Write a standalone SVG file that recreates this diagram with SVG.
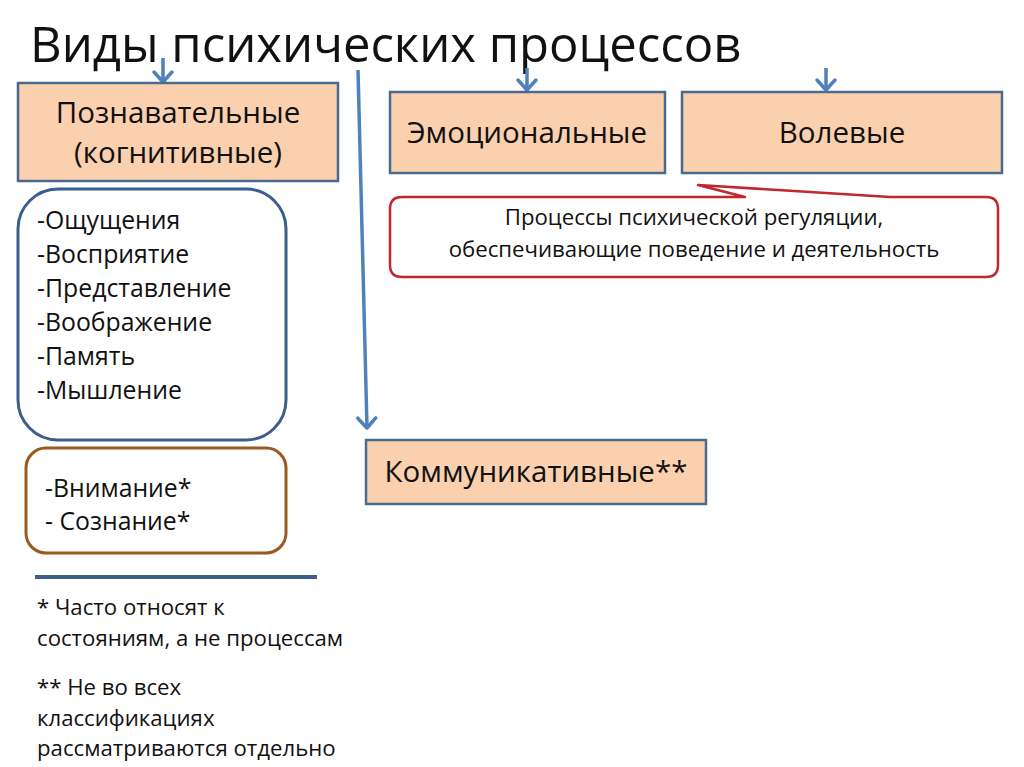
<svg xmlns="http://www.w3.org/2000/svg" width="1024" height="767" viewBox="0 0 1024 767">
<style>
text{font-family:"Open Sans","Noto Sans",sans-serif;fill:#111}
.box{fill:#FAD0AE;stroke:#4A6A90;stroke-width:2.5}
.t24{font-size:29.5px}
.t22{font-size:24.8px}
.t19{font-size:22.2px}
.arr{stroke:#4F81BD;stroke-width:3.5;fill:none;marker-end:url(#ah)}
</style>
<defs>
<marker id="ah" markerUnits="userSpaceOnUse" markerWidth="24" markerHeight="24" refX="12" refY="12" orient="auto" overflow="visible">
<path d="M2,3 L12,12 L2,21" fill="none" stroke="#4F81BD" stroke-width="3.5" stroke-linecap="round" stroke-linejoin="round"/>
</marker>
</defs>
<rect width="1024" height="767" fill="#fff"/>
<text x="30" y="62" font-size="49" id="title">Виды психических процессов</text>
<g id="connectors">
<line class="arr" x1="163" y1="58" x2="163" y2="82"/>
<line class="arr" x1="527" y1="68" x2="527" y2="90"/>
<line class="arr" x1="826" y1="68" x2="826" y2="90"/>
<line class="arr" x1="358" y1="70" x2="367" y2="428"/>
</g>
<g id="cognitive">
<rect class="box" x="18" y="83" width="320" height="98"/>
<text class="t24" x="178" y="123" text-anchor="middle">Познавательные</text>
<text class="t24" x="178" y="163" text-anchor="middle">(когнитивные)</text>
</g>
<g id="emotional">
<rect class="box" x="390" y="92" width="275" height="81"/>
<text class="t24" x="527" y="143" text-anchor="middle">Эмоциональные</text>
</g>
<g id="volitional">
<rect class="box" x="682" y="92" width="320" height="81"/>
<text class="t24" x="842" y="143" text-anchor="middle">Волевые</text>
</g>
<g id="regulation">
<path d="M402,197 L745,197 L698,185 L890,197 L986,197 Q998,197 998,209 L998,265 Q998,277 986,277 L402,277 Q390,277 390,265 L390,209 Q390,197 402,197 Z" fill="#fff" stroke="#C0282D" stroke-width="2.5" stroke-linejoin="round"/>
<text class="t19" x="694" y="225" text-anchor="middle">Процессы психической регуляции,</text>
<text class="t19" x="694" y="257" text-anchor="middle">обеспечивающие поведение и деятельность</text>
</g>
<g id="list">
<rect x="18" y="189" width="268" height="251" rx="40" fill="#fff" stroke="#3B5E8A" stroke-width="3"/>
<text class="t22" x="37" y="229">-Ощущения</text>
<text class="t22" x="37" y="263">-Восприятие</text>
<text class="t22" x="37" y="297">-Представление</text>
<text class="t22" x="37" y="331">-Воображение</text>
<text class="t22" x="37" y="365">-Память</text>
<text class="t22" x="37" y="399">-Мышление</text>
</g>
<g id="attention">
<rect x="26" y="448" width="260" height="105" rx="20" fill="#fff" stroke="#9A5B1F" stroke-width="3"/>
<text class="t22" x="45" y="497">-Внимание*</text>
<text class="t22" x="45" y="530">- Сознание*</text>
</g>
<g id="communicative">
<rect class="box" x="366" y="440" width="340" height="64"/>
<text class="t24" x="536" y="482" text-anchor="middle">Коммуникативные**</text>
</g>
<g id="notes">
<line x1="35" y1="577" x2="317" y2="577" stroke="#3F5F8A" stroke-width="4"/>
<text class="t19" x="37" y="615">* Часто относят к</text>
<text class="t19" x="37" y="646">состояниям, а не процессам</text>
<text class="t19" x="37" y="695">** Не во всех</text>
<text class="t19" x="37" y="726">классификациях</text>
<text class="t19" x="37" y="756">рассматриваются отдельно</text>
</g>
</svg>
